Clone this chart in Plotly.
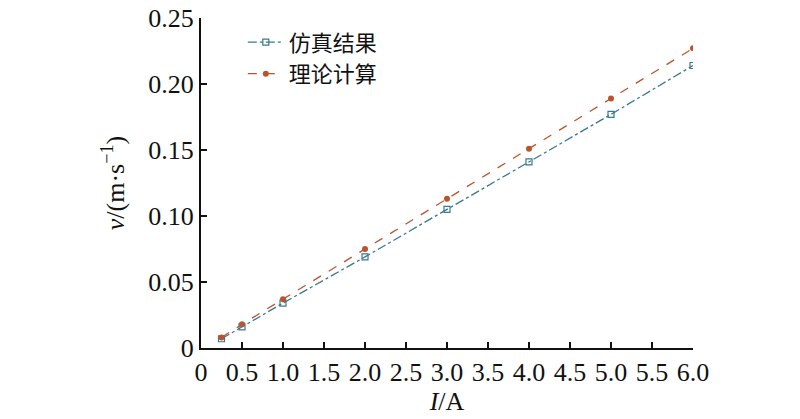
import plotly.graph_objects as go

current = [0.25, 0.5, 1.0, 2.0, 3.0, 4.0, 5.0, 6.0]
sim_v = [0.007, 0.016, 0.034, 0.069, 0.105, 0.141, 0.177, 0.214]
theory_v = [0.008, 0.018, 0.037, 0.075, 0.113, 0.151, 0.189, 0.227]
x_ticks = [0, 0.5, 1.0, 1.5, 2.0, 2.5, 3.0, 3.5, 4.0, 4.5, 5.0, 5.5, 6.0]
x_labels = ["0", "0.5", "1.0", "1.5", "2.0", "2.5", "3.0", "3.5", "4.0", "4.5", "5.0", "5.5", "6.0"]
y_ticks = [0, 0.05, 0.10, 0.15, 0.20, 0.25]
y_labels = ["0", "0.05", "0.10", "0.15", "0.20", "0.25"]

fig = go.Figure()
fig.add_trace(go.Scatter(
    x=current, y=sim_v, name="仿真结果", mode="lines+markers",
    line=dict(color="#3a7892", width=1.3, dash="dashdot"),
    marker=dict(symbol="square-open", size=6, color="#3a7892", line=dict(width=1.2)),
))
fig.add_trace(go.Scatter(
    x=current, y=theory_v, name="理论计算", mode="lines+markers",
    line=dict(color="#b9552e", width=1.3, dash="dash"),
    marker=dict(symbol="circle", size=6, color="#b9552e"),
))

serif = "Liberation Serif, Times New Roman, serif"
tickfont = dict(family=serif, size=26, color="#111")
fig.update_layout(
    width=800, height=419,
    margin=dict(l=201, r=107, t=18, b=71),
    plot_bgcolor="white", paper_bgcolor="white",
    showlegend=True,
    legend=dict(x=0.085, y=0.99, xanchor="left", yanchor="top",
                font=dict(family="Noto Sans CJK SC", size=22, color="#111"),
                bgcolor="rgba(0,0,0,0)", itemwidth=36, tracegroupgap=0),
    xaxis=dict(range=[0, 6.0], tickvals=x_ticks, ticktext=x_labels, automargin=False,
               showgrid=False, zeroline=False, showline=True, linecolor="#111", linewidth=2,
               ticks="inside", ticklen=6, tickwidth=1.5, tickcolor="#111", tickfont=tickfont,
               title=dict(text="<i>I</i>/A", font=dict(family=serif, size=26, color="#111"), standoff=0)),
    yaxis=dict(range=[0, 0.25], tickvals=y_ticks, ticktext=y_labels, automargin=False,
               showgrid=False, zeroline=False, showline=True, linecolor="#111", linewidth=2,
               ticks="inside", ticklen=6, tickwidth=1.5, tickcolor="#111", tickfont=tickfont,
               title=dict(text="<i>v</i>/(m·s<sup>−1</sup>)", font=dict(family=serif, size=26, color="#111"), standoff=16)),
)
fig.write_html("out.html", config={"displayModeBar": False},
               post_script="document.body.style.margin='0';")
